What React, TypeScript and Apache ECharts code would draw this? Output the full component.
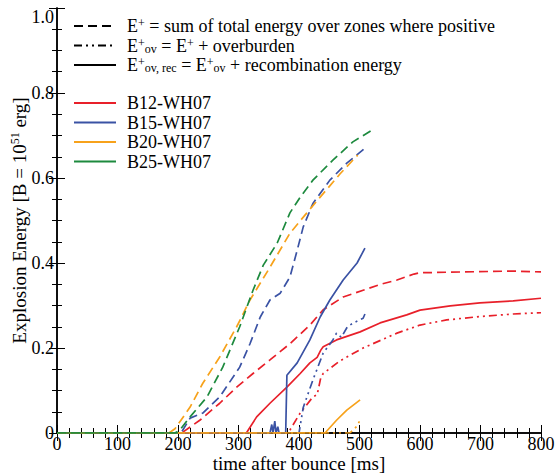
import React, { useEffect, useRef } from "react";
import * as echarts from "echarts";

const xTicks = [0, 800, 100];
const yTicks = [0, 1, 0.2];

const b12Dashed = [[0,0],[205,0],[208,0.002],[236,0.03],[269,0.07],[297,0.108],[324,0.14],[352,0.172],[385,0.21],[418,0.254],[440,0.29],[473,0.32],[506,0.336],[535,0.35],[562,0.36],[590,0.374],[600,0.377],[671,0.379],[754,0.381],[800,0.379]];
const b12Solid = [[0,0],[313,0],[330,0.038],[352,0.07],[380,0.108],[402,0.14],[418,0.165],[430,0.178],[436,0.195],[440,0.203],[462,0.219],[501,0.238],[534,0.259],[578,0.278],[600,0.289],[650,0.299],[699,0.306],[754,0.311],[800,0.317]];
const b12DashDot = [[0,0],[380,0],[385,0.007],[402,0.047],[423,0.085],[430,0.09],[436,0.13],[440,0.14],[468,0.17],[506,0.2],[562,0.235],[600,0.254],[644,0.266],[699,0.274],[754,0.28],[800,0.283]];

const b15Dashed = [[0,0],[205,0],[208,0.007],[220,0.035],[241,0.047],[269,0.085],[302,0.155],[319,0.21],[336,0.273],[352,0.313],[369,0.329],[385,0.367],[397,0.43],[407,0.485],[423,0.54],[451,0.595],[479,0.635],[509,0.67]];
const b15Solid = [[0,0],[352,0],[355,0.02],[357,0],[360,0.028],[362,0],[365,0.015],[367,0],[378,0],[380,0.136],[397,0.165],[418,0.219],[435,0.273],[451,0.313],[473,0.36],[496,0.4],[509,0.435]];
const b15DashDot = [[0,0],[400,0],[407,0.06],[423,0.125],[440,0.188],[456,0.219],[462,0.235],[470,0.225],[480,0.25],[490,0.259],[506,0.27],[509,0.28]];

const b20Dashed = [[0,0],[185,0],[195,0.01],[220,0.061],[241,0.117],[269,0.179],[297,0.25],[319,0.313],[352,0.39],[385,0.47],[413,0.518],[435,0.555],[468,0.61],[497,0.654]];
const b20Solid = [[0,0],[443,0],[462,0.03],[479,0.054],[501,0.078]];
const b20DashDot = [[0,0],[484,0],[495,0.015],[501,0.03]];

const b25Dashed = [[0,0],[195,0],[203,0.007],[220,0.038],[248,0.085],[274,0.155],[302,0.25],[324,0.336],[341,0.395],[364,0.447],[385,0.518],[402,0.555],[423,0.595],[456,0.642],[489,0.685],[521,0.713]];
const b25Solid = [[0,0],[200,0]];

const modelNames = ["B12-WH07", "B15-WH07", "B20-WH07", "B25-WH07"];
const modelColors = ["#e8202a", "#3a52a4", "#f7a21b", "#1d8a3e"];
const styleNames = ["Eplus", "Eov", "Eovrec"];

const FONT = "Liberation Serif";
const DASH = [9, 5];
const DASHDOT = [8, 4, 2, 4, 2, 4];

export default function App() {
  const ref = useRef<HTMLDivElement>(null);
  useEffect(() => {
    if (!ref.current) return;
    const chart = echarts.init(ref.current, null, { renderer: "svg" });
    const mk = (name: string, color: string, data: number[][], type: any) => ({
      type: "line",
      name,
      data,
      symbol: "none",
      showSymbol: false,
      lineStyle: { color, width: 1.7, type },
      itemStyle: { color },
      z: 3,
    });
    const series: any[] = [
      mk(modelNames[0], modelColors[0], b12Dashed, DASH),
      mk(modelNames[0], modelColors[0], b12Solid, "solid"),
      mk(modelNames[0], modelColors[0], b12DashDot, DASHDOT),
      mk(modelNames[1], modelColors[1], b15Dashed, DASH),
      mk(modelNames[1], modelColors[1], b15Solid, "solid"),
      mk(modelNames[1], modelColors[1], b15DashDot, DASHDOT),
      mk(modelNames[2], modelColors[2], b20Dashed, DASH),
      mk(modelNames[2], modelColors[2], b20Solid, "solid"),
      mk(modelNames[2], modelColors[2], b20DashDot, DASHDOT),
      mk(modelNames[3], modelColors[3], b25Dashed, DASH),
      mk(modelNames[3], modelColors[3], b25Solid, "solid"),
      mk(styleNames[0], "#000", [], DASH),
      mk(styleNames[1], "#000", [], DASHDOT),
      mk(styleNames[2], "#000", [], "solid"),
    ];
    const rich = {
      n: { fontFamily: FONT, fontSize: 18, color: "#000", lineHeight: 18 },
      sup: { fontFamily: FONT, fontSize: 12, color: "#000", lineHeight: 12, verticalAlign: "top" },
      sub: { fontFamily: FONT, fontSize: 12, color: "#000", lineHeight: 12, verticalAlign: "bottom" },
    };
    const styleLabels: Record<string, string> = {
      Eplus: "{n|E}{sup|+}{n| = sum of total energy over zones where positive}",
      Eov: "{n|E}{sup|+}{sub|ov}{n| = E}{sup|+}{n| + overburden}",
      Eovrec: "{n|E}{sup|+}{sub|ov, rec}{n| = E}{sup|+}{sub|ov}{n| + recombination energy}",
    };
    const axisCommon = {
      min: 0,
      axisLine: { show: true, lineStyle: { color: "#000", width: 1.5 } },
      axisTick: { show: true, inside: true, length: 8, lineStyle: { color: "#000", width: 1 } },
      minorTick: { show: true, length: 5, lineStyle: { color: "#000", width: 1 } },
      splitLine: { show: false },
      minorSplitLine: { show: false },
    };
    chart.setOption({
      animation: false,
      grid: { left: 57, right: 15, top: 8, bottom: 40, containLabel: false, outerBoundsMode: "none" },
      legend: [
        {
          data: styleNames,
          left: 68,
          top: 12,
          orient: "vertical",
          itemWidth: 42,
          itemHeight: 12,
          itemGap: 1.5,
          itemStyle: { opacity: 0 },
          lineStyle: { width: 2 },
          formatter: (n: string) => styleLabels[n],
          textStyle: { rich, lineHeight: 18, padding: [0, 0, 0, 6] },
          selectedMode: false,
        },
        {
          data: modelNames,
          left: 68,
          top: 89,
          orient: "vertical",
          itemWidth: 42,
          itemHeight: 12,
          itemGap: 1.5,
          itemStyle: { opacity: 0 },
          lineStyle: { type: "solid", width: 2 },
          textStyle: { fontFamily: FONT, fontSize: 18, color: "#000", lineHeight: 18, padding: [0, 0, 0, 6] },
          selectedMode: false,
        },
      ],
      xAxis: [
        {
          ...axisCommon,
          type: "value",
          max: xTicks[1],
          interval: xTicks[2],
          minorTick: { ...axisCommon.minorTick, splitNumber: 5 },
          axisLabel: { fontFamily: FONT, fontSize: 18, color: "#000", margin: 2 },
          name: "time after bounce [ms]",
          nameLocation: "middle",
          nameGap: 21,
          nameMoveOverlap: false,
          nameTextStyle: { fontFamily: FONT, fontSize: 19, color: "#000" },
        },
        {
          ...axisCommon,
          type: "value",
          position: "top",
          max: xTicks[1],
          interval: xTicks[2],
          minorTick: { ...axisCommon.minorTick, splitNumber: 5 },
          axisLabel: { show: false },
        },
      ],
      yAxis: [
        {
          ...axisCommon,
          type: "value",
          max: yTicks[1],
          interval: yTicks[2],
          minorTick: { ...axisCommon.minorTick, splitNumber: 4 },
          axisLabel: {
            fontFamily: FONT,
            fontSize: 18,
            color: "#000",
            margin: 3,
            verticalAlignMaxLabel: "top",
            formatter: (v: number) => (v === 0 ? "0" : v.toFixed(1)),
          },
          name: "Explosion Energy [B = 10{sup|51} erg]",
          nameLocation: "middle",
          nameGap: 28,
          nameMoveOverlap: false,
          nameTextStyle: {
            fontFamily: FONT,
            fontSize: 19,
            color: "#000",
            rich: {
              sup: { fontFamily: FONT, fontSize: 12, color: "#000", verticalAlign: "top", lineHeight: 20 },
            },
            lineHeight: 20,
          },
        },
        {
          ...axisCommon,
          type: "value",
          position: "right",
          max: yTicks[1],
          interval: yTicks[2],
          minorTick: { ...axisCommon.minorTick, splitNumber: 4 },
          axisLabel: { show: false },
        },
      ],
      series,
    });
    return () => chart.dispose();
  }, []);
  return (
    <div
      ref={ref}
      style={{ position: "fixed", left: 0, top: 0, width: 556, height: 473, background: "#fff" }}
    />
  );
}
